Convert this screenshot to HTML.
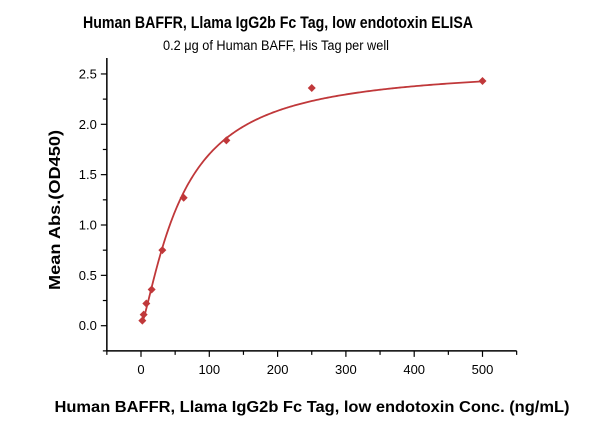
<!DOCTYPE html>
<html><head><meta charset="utf-8"><style>
html,body{margin:0;padding:0;background:#fff;}
svg{display:block;font-family:"Liberation Sans",sans-serif;}
</style></head><body>
<svg id="chart" width="600" height="421" viewBox="0 0 600 421" xmlns="http://www.w3.org/2000/svg">
<text x="278" y="28" text-anchor="middle" font-size="16.5" font-weight="bold" textLength="390" lengthAdjust="spacingAndGlyphs">Human BAFFR, Llama IgG2b Fc Tag, low endotoxin ELISA</text>
<text x="276" y="50" text-anchor="middle" font-size="13.5" textLength="226" lengthAdjust="spacingAndGlyphs">0.2 μg of Human BAFF, His Tag per well</text>
<text transform="translate(60,210) rotate(-90)" text-anchor="middle" font-size="15.5" font-weight="bold" textLength="160" lengthAdjust="spacingAndGlyphs">Mean Abs.(OD450)</text>
<text x="312" y="412" text-anchor="middle" font-size="15.5" font-weight="bold" textLength="515" lengthAdjust="spacingAndGlyphs">Human BAFFR, Llama IgG2b Fc Tag, low endotoxin Conc. (ng/mL)</text>
<g id="axes"></g>
<g id="marks"></g>
</svg>
<script>
const concentrations = [1.95, 3.9, 7.8, 15.6, 31.25, 62.5, 125, 250, 500];
const absorbance = [0.05, 0.11, 0.22, 0.36, 0.75, 1.27, 1.84, 2.36, 2.43];
const xTicks = [0, 100, 200, 300, 400, 500];
const yTicks = [0.0, 0.5, 1.0, 1.5, 2.0, 2.5];
const yTickLabels = ["0.0", "0.5", "1.0", "1.5", "2.0", "2.5"];
const fitParams = [0.0, 2.58, 60, 1.3]; // bottom, top, EC50, hill

const NS = "http://www.w3.org/2000/svg";
const xs = v => 141 + v * 0.683;
const ys = v => 325.7 - v * 100.7;
const axesG = document.getElementById('axes');
const marksG = document.getElementById('marks');
function mk(tag, attrs, parent) {
  const e = document.createElementNS(NS, tag);
  for (const k in attrs) e.setAttribute(k, attrs[k]);
  parent.appendChild(e);
  return e;
}
const leftX = xs(-50), rightX = xs(550), bottomY = ys(-0.25), topY = 58;
let axl = mk('line', {x1: leftX, y1: topY, x2: leftX, y2: bottomY, stroke: '#000', 'stroke-width': 1.5}, axesG);


axl = mk('line', {x1: leftX, y1: bottomY, x2: rightX, y2: bottomY, stroke: '#000', 'stroke-width': 1.5}, axesG);


for (let v = -50; v <= 550; v += 50) {
  const major = v % 100 === 0;
  const t = mk('line', {x1: xs(v), y1: bottomY, x2: xs(v), y2: bottomY + (major ? 6 : 4), stroke: '#000', 'stroke-width': 1.2}, axesG);
  
  
}
xTicks.forEach(v => {
  const t = mk('text', {x: xs(v), y: bottomY + 23, 'text-anchor': 'middle', 'font-size': 13}, axesG);
  t.textContent = String(v);
  
  
});
for (let v = -0.25; v <= 2.6; v += 0.25) {
  const major = Math.abs(v * 2 - Math.round(v * 2)) < 1e-6;
  const t = mk('line', {x1: leftX - (major ? 6 : 4), y1: ys(v), x2: leftX, y2: ys(v), stroke: '#000', 'stroke-width': 1.2}, axesG);
  
  
}
yTicks.forEach((v, i) => {
  const t = mk('text', {x: leftX - 10, y: ys(v) + 4.5, 'text-anchor': 'end', 'font-size': 13}, axesG);
  t.textContent = yTickLabels[i];
  
  
});
const fb = fitParams[0], ft = fitParams[1], fc = fitParams[2], fh = fitParams[3];
const fit = x => ft + (fb - ft) / (1 + Math.pow(x / fc, fh));
let d = '';
const xmin = concentrations[0], xmax = concentrations[concentrations.length - 1];
for (let i = 0; i <= 300; i++) {
  const x = xmin + (xmax - xmin) * Math.pow(i / 300, 1.8);
  d += (i ? 'L' : 'M') + xs(x).toFixed(2) + ',' + ys(fit(x)).toFixed(2);
}
const curve = mk('path', {d: d, fill: 'none', stroke: '#c0383a', 'stroke-width': 1.8}, marksG);


concentrations.forEach((c, i) => {
  const px = xs(c), py = ys(absorbance[i]), r = 4;
  const p = mk('polygon', {points: px + ',' + (py - r) + ' ' + (px + r) + ',' + py + ' ' + px + ',' + (py + r) + ' ' + (px - r) + ',' + py, fill: '#c0383a'}, marksG);
  
  
});
</script>
</body></html>
